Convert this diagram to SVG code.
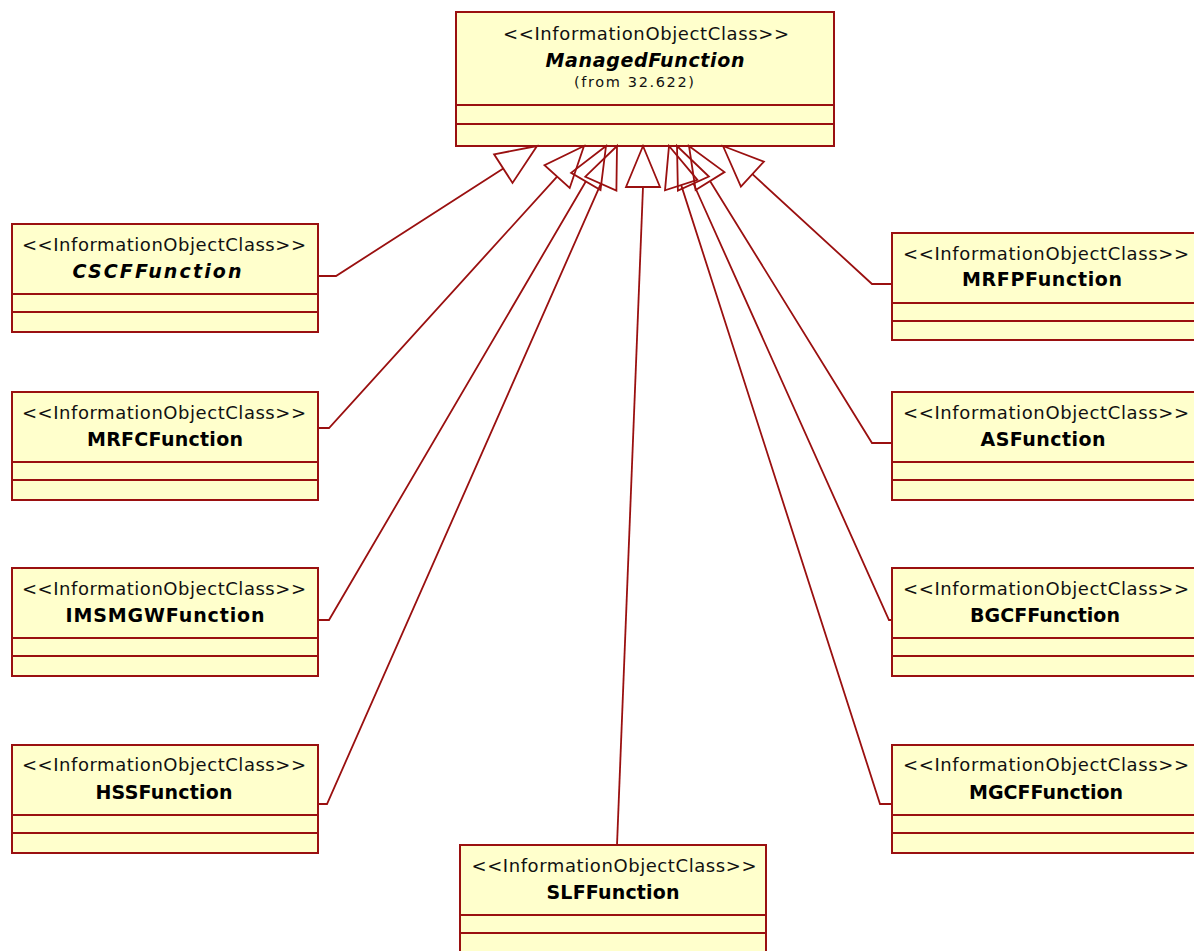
<svg xmlns="http://www.w3.org/2000/svg" width="1194" height="951" viewBox="0 0 1194 951">
<style>
.box{fill:#ffffcc;stroke:#9a1010;stroke-width:2}
.div{stroke:#9a1010;stroke-width:2}
.st{font-family:"DejaVu Sans",Verdana,sans-serif;font-size:18px;fill:#111;text-anchor:middle}
.nm{font-family:"DejaVu Sans",Verdana,sans-serif;font-size:19px;font-weight:bold;fill:#000;text-anchor:middle}
.it{font-style:italic}
.fr{font-family:"DejaVu Sans",Verdana,sans-serif;font-size:14.5px;fill:#111;text-anchor:middle}
.con{fill:none;stroke:#9a1010;stroke-width:1.8}
</style>
<rect width="1194" height="951" fill="#fff"/>
<g id="ManagedFunction">
<rect class="box" x="456" y="12" width="378" height="134"/>
<line class="div" x1="456" y1="105" x2="834" y2="105"/>
<line class="div" x1="456" y1="124" x2="834" y2="124"/>
<text class="st" x="646" y="40" textLength="286" lengthAdjust="spacing">&lt;&lt;InformationObjectClass&gt;&gt;</text>
<text class="nm it" x="645" y="67" textLength="199" lengthAdjust="spacing">ManagedFunction</text>
<text class="fr" x="634" y="87" textLength="120" lengthAdjust="spacing">(from 32.622)</text>
</g>
<g id="CSCFFunction">
<rect class="box" x="12" y="224" width="306" height="108"/>
<line class="div" x1="12" y1="294" x2="318" y2="294"/>
<line class="div" x1="12" y1="312" x2="318" y2="312"/>
<text class="st" x="164" y="251" textLength="284" lengthAdjust="spacing">&lt;&lt;InformationObjectClass&gt;&gt;</text>
<text class="nm it" x="157" y="278" textLength="169" lengthAdjust="spacing">CSCFFunction</text>
</g>
<g id="MRFCFunction">
<rect class="box" x="12" y="392" width="306" height="108"/>
<line class="div" x1="12" y1="462" x2="318" y2="462"/>
<line class="div" x1="12" y1="480" x2="318" y2="480"/>
<text class="st" x="164" y="419" textLength="284" lengthAdjust="spacing">&lt;&lt;InformationObjectClass&gt;&gt;</text>
<text class="nm" x="165" y="446" textLength="156" lengthAdjust="spacing">MRFCFunction</text>
</g>
<g id="IMSMGWFunction">
<rect class="box" x="12" y="568" width="306" height="108"/>
<line class="div" x1="12" y1="638" x2="318" y2="638"/>
<line class="div" x1="12" y1="656" x2="318" y2="656"/>
<text class="st" x="164" y="595" textLength="284" lengthAdjust="spacing">&lt;&lt;InformationObjectClass&gt;&gt;</text>
<text class="nm" x="165" y="622" textLength="199" lengthAdjust="spacing">IMSMGWFunction</text>
</g>
<g id="HSSFunction">
<rect class="box" x="12" y="745" width="306" height="108"/>
<line class="div" x1="12" y1="815" x2="318" y2="815"/>
<line class="div" x1="12" y1="833" x2="318" y2="833"/>
<text class="st" x="164" y="771" textLength="284" lengthAdjust="spacing">&lt;&lt;InformationObjectClass&gt;&gt;</text>
<text class="nm" x="164" y="799" textLength="137" lengthAdjust="spacing">HSSFunction</text>
</g>
<g id="MRFPFunction">
<rect class="box" x="892" y="233" width="310" height="107"/>
<line class="div" x1="892" y1="303" x2="1202" y2="303"/>
<line class="div" x1="892" y1="321" x2="1202" y2="321"/>
<text class="st" x="1046" y="260" textLength="286" lengthAdjust="spacing">&lt;&lt;InformationObjectClass&gt;&gt;</text>
<text class="nm" x="1042" y="286" textLength="160" lengthAdjust="spacing">MRFPFunction</text>
</g>
<g id="ASFunction">
<rect class="box" x="892" y="392" width="310" height="108"/>
<line class="div" x1="892" y1="462" x2="1202" y2="462"/>
<line class="div" x1="892" y1="480" x2="1202" y2="480"/>
<text class="st" x="1046" y="419" textLength="286" lengthAdjust="spacing">&lt;&lt;InformationObjectClass&gt;&gt;</text>
<text class="nm" x="1043" y="446" textLength="125" lengthAdjust="spacing">ASFunction</text>
</g>
<g id="BGCFFunction">
<rect class="box" x="892" y="568" width="310" height="108"/>
<line class="div" x1="892" y1="638" x2="1202" y2="638"/>
<line class="div" x1="892" y1="656" x2="1202" y2="656"/>
<text class="st" x="1046" y="595" textLength="286" lengthAdjust="spacing">&lt;&lt;InformationObjectClass&gt;&gt;</text>
<text class="nm" x="1045" y="622" textLength="150" lengthAdjust="spacing">BGCFFunction</text>
</g>
<g id="MGCFFunction">
<rect class="box" x="892" y="745" width="310" height="108"/>
<line class="div" x1="892" y1="815" x2="1202" y2="815"/>
<line class="div" x1="892" y1="833" x2="1202" y2="833"/>
<text class="st" x="1046" y="771" textLength="286" lengthAdjust="spacing">&lt;&lt;InformationObjectClass&gt;&gt;</text>
<text class="nm" x="1046" y="799" textLength="154" lengthAdjust="spacing">MGCFFunction</text>
</g>
<g id="SLFFunction">
<rect class="box" x="460" y="845" width="306" height="115"/>
<line class="div" x1="460" y1="915" x2="766" y2="915"/>
<line class="div" x1="460" y1="933" x2="766" y2="933"/>
<text class="st" x="614" y="872" textLength="285" lengthAdjust="spacing">&lt;&lt;InformationObjectClass&gt;&gt;</text>
<text class="nm" x="613" y="899" textLength="133" lengthAdjust="spacing">SLFFunction</text>
</g>
<g id="connectors">
<polygon class="con" points="537,146 494.1,154.3 512.5,182.9"/>
<polyline class="con" points="503.3,168.6 336,276 318,276"/>
<polygon class="con" points="584,146 544.5,165.2 569.7,188"/>
<polyline class="con" points="557.1,176.6 329,428 318,428"/>
<polygon class="con" points="606,146 571.1,172.9 600.5,190.1"/>
<polyline class="con" points="585.8,181.5 329,620 318,620"/>
<polygon class="con" points="617,146 585.3,176.7 616.4,190.5"/>
<polyline class="con" points="600.9,183.6 327,804 318,804"/>
<polygon class="con" points="643,146 626,187 660,187"/>
<polyline class="con" points="643,187 617,845"/>
<polygon class="con" points="669,146 665,190.3 697.4,179.9"/>
<polyline class="con" points="681.2,185.1 880,804 892,804"/>
<polygon class="con" points="677,146 677.9,190.5 708.9,176.5"/>
<polyline class="con" points="693.4,183.5 889,620 892,620"/>
<polygon class="con" points="689,146 695.6,190 724.5,172.1"/>
<polyline class="con" points="710,181 872,443 892,443"/>
<polygon class="con" points="723,146 740.9,186.6 763.9,161.6"/>
<polyline class="con" points="752.4,174.1 872,284 892,284"/>
</g>
</svg>
